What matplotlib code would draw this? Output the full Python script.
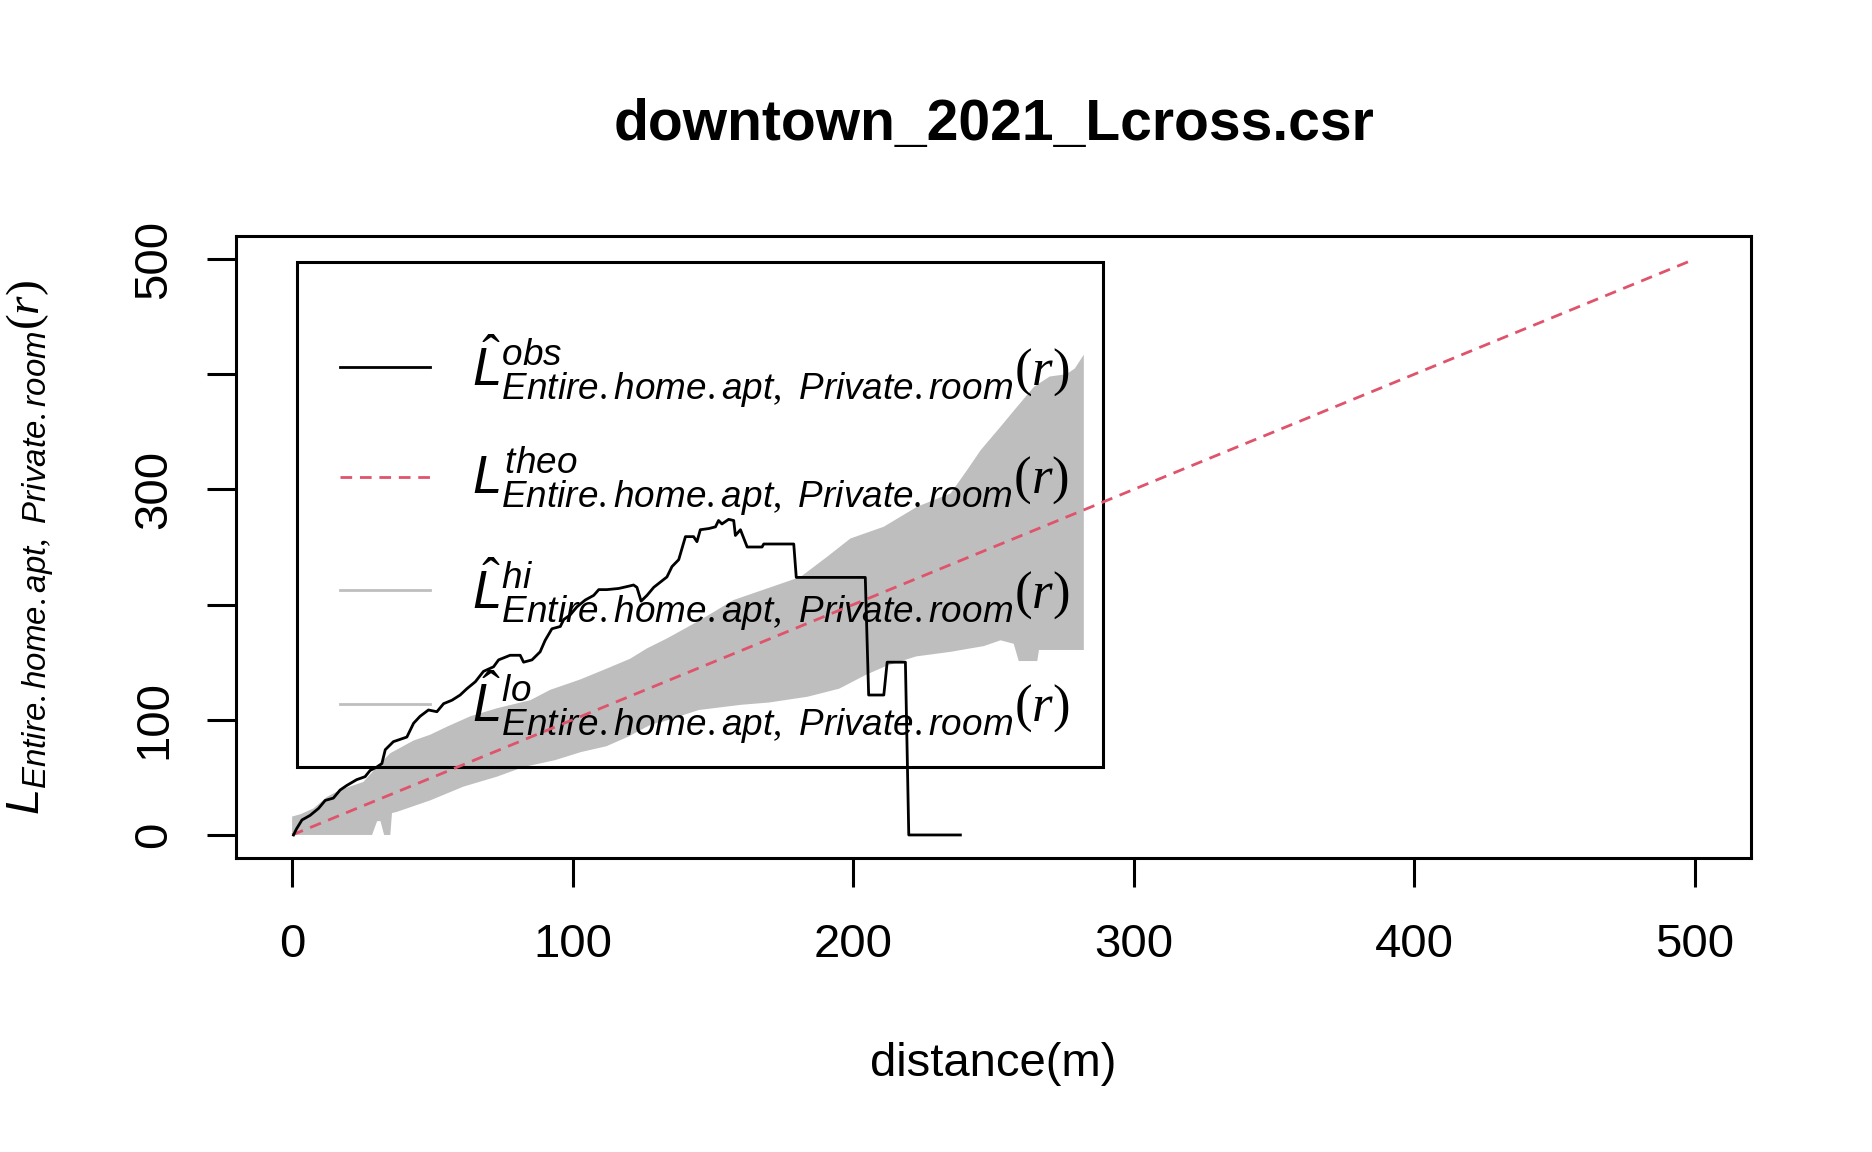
import numpy as np
import matplotlib
matplotlib.use("Agg")
import matplotlib.pyplot as plt
from matplotlib.lines import Line2D
from matplotlib.patches import Rectangle

# observed cross-type L function
r_obs = [0.5, 1.5, 3.5, 6.4, 9.4, 11.8, 14.7, 17.1, 19.5, 23, 26, 27.8, 30.2, 32, 33.2,
         36.1, 40.9, 43.3, 45.6, 48.6, 51.6, 54, 57, 59.9, 62.3, 65.3, 68.2, 71.8, 73.6,
         77.7, 81.3, 82.5, 85.5, 88.4, 90.2, 92.6, 95.6, 96.8, 99.1, 101.5, 104.5, 107.5,
         109.3, 112.2, 116.4, 120, 121.7, 122.9, 124.4, 126.5, 128.9, 133.6, 135.4, 137.8,
         140.2, 143.1, 144.3, 145.5, 148.5, 150.9, 152, 153.2, 155.6, 157.4, 158, 159.8,
         162.2, 167.5, 168.1, 178.8, 179.7, 204.3, 205.5, 210.9, 212.1, 218.6, 219.8, 238.2]
L_obs = [0, 5, 13, 17, 23, 30, 32, 39, 43, 48, 50.6, 56, 59, 62, 74,
         81, 85, 97, 103, 108.5, 107, 114, 117, 121.5, 127, 133, 142, 146, 152,
         156, 156, 150, 152, 159, 169, 179, 181, 187, 191, 198, 204, 208,
         213, 213, 214, 216, 217, 215, 203, 208, 215, 224, 233, 239,
         259, 259, 254.6, 265, 266, 267.5, 273, 270, 274, 273, 260, 265,
         250, 250, 252.6, 252.6, 223.6, 223.6, 121.5, 121.5, 150, 150, 0, 0]

# simulation envelope, upper (hi) and lower (lo)
r_hi = [0, 3, 7.6, 12.4, 17, 25.4, 30.2, 35, 43.3, 49.2, 55.2, 63.5, 73, 84.9, 92,
        102.7, 112.2, 120.5, 126.5, 133.6, 145.5, 157.4, 169.3, 181.2, 190.7, 199,
        210.9, 222.8, 234.7, 240.6, 245.4, 252.5, 258.4, 264.4, 270, 276, 279, 282.2]
L_hi = [16, 18, 23, 33, 39, 46, 59, 71, 82, 87, 94, 103, 110, 117, 126,
        135, 144.5, 153, 162, 170.6, 186.6, 204, 214, 224, 241.5, 257.4,
        267.6, 285, 296.5, 316.8, 334, 354.4, 371.7, 389, 398, 400, 405, 417]
r_lo = [0, 28.5, 30.3, 31.5, 32.8, 35, 35.6, 37.3, 49.2, 61.1, 73, 82.5, 93.8, 103,
        112, 119.5, 128, 133, 145, 160, 170, 183.7, 195, 204.5, 212, 222.4, 234.7,
        246.6, 252.5, 257.2, 259, 265.6, 266.2, 282.2]
L_lo = [0, 0, 12, 12, 0, 0, 19, 20, 30, 42, 50.6, 59, 65, 72,
        77, 85, 96, 99, 108.5, 113, 115, 120, 127, 139, 147, 155, 159,
        164, 169, 166, 151, 151, 160.6, 160.6]

# theoretical line under CSR
r_theo = [0, 500]
L_theo = [0, 500]

x_ticks = [0, 100, 200, 300, 400, 500]
y_ticks = [0, 100, 200, 300, 400, 500]
y_ticklabels = ["0", "100", "", "300", "", "500"]

sub = r"_{Entire.home.apt,\ Private.room}\mathrm{(}\mathcal{r}\mathrm{)}"
leg_labels = [r"$\hat{L}^{obs}" + sub + "$",
              r"$L^{theo}" + sub + "$",
              r"$\hat{L}^{hi}" + sub + "$",
              r"$\hat{L}^{lo}" + sub + "$"]

plt.rcParams["font.family"] = ["Liberation Sans", "DejaVu Sans"]
plt.rcParams["mathtext.fontset"] = "custom"
plt.rcParams["mathtext.it"] = "Liberation Sans:italic"
plt.rcParams["mathtext.rm"] = "Liberation Serif"
plt.rcParams["mathtext.cal"] = "Liberation Serif:italic"

W, H = 1872, 1152
fig = plt.figure(figsize=(W / 100, H / 100), dpi=100)
ax = fig.add_axes([236 / W, 1 - 858 / H, (1751 - 236) / W, (858 - 236) / H])

env_x = np.concatenate([r_hi, r_lo[::-1]])
env_y = np.concatenate([L_hi, L_lo[::-1]])
ax.fill(env_x, env_y, color="#BEBEBE", lw=0, zorder=1)
ax.plot(r_theo, L_theo, color="#DF536B", lw=2, dashes=(4.2, 2.8), zorder=3)
ax.plot(r_obs, L_obs, color="black", lw=2, zorder=3)

ax.set_xlim(-20, 520)
ax.set_ylim(-20, 520)
ax.set_xticks(x_ticks)
ax.set_yticks(y_ticks)
ax.set_yticklabels(y_ticklabels, rotation=90, va="center")
ax.tick_params(direction="out", length=21, width=2.2, labelsize=34)
ax.tick_params(axis="x", pad=26)
ax.tick_params(axis="y", pad=22)
for s in ax.spines.values():
    s.set_linewidth(2.2)

ax.set_title("downtown_2021_Lcross.csr", fontsize=41, fontweight="bold", pad=69)
ax.set_xlabel("distance(m)", fontsize=34)
ax.xaxis.set_label_coords(0.5, -(1064 - 858) / 622)
ax.xaxis.label.set_va("center")
ax.set_ylabel(r"$L" + sub + "$", fontsize=34)
ax.yaxis.set_label_coords((30 - 236) / 1515, 0.5)
ax.yaxis.label.set_va("center")

# legend: box drawn separately, entries placed inside it
ax.add_patch(Rectangle(((297 - 236) / 1515, (858 - 767) / 622),
                       (1103 - 297) / 1515, (767 - 262) / 622,
                       transform=ax.transAxes, fill=False, ec="black", lw=2.2, zorder=2))
handles = [Line2D([], [], color="black", lw=2),
           Line2D([], [], color="#DF536B", lw=2, dashes=(4.2, 2.8)),
           Line2D([], [], color="#BEBEBE", lw=2),
           Line2D([], [], color="#BEBEBE", lw=2)]
leg = ax.legend(handles, leg_labels, loc="upper left",
                bbox_to_anchor=((340 - 236) / 1515, (858 - 332) / 622),
                borderaxespad=0, fontsize=38, handlelength=1.7, handletextpad=0.8,
                labelspacing=0.67, borderpad=0, frameon=False)
leg.set_zorder(2)

fig.savefig("out.png", dpi=100)
